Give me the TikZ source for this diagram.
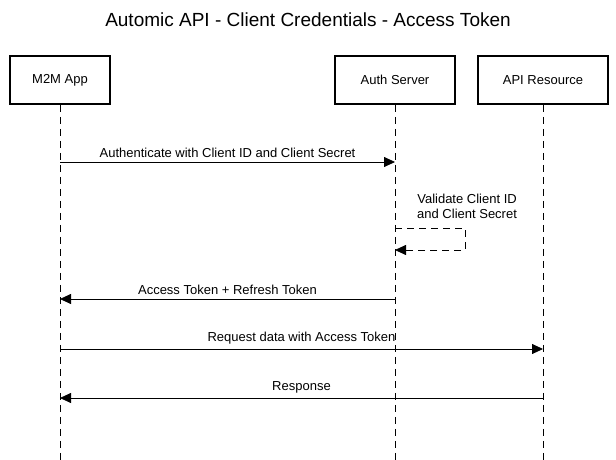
\documentclass[tikz,border=0pt]{standalone}
\usepackage{fontspec}
\setmainfont{Liberation Sans}
\usetikzlibrary{arrows.meta}
\tikzset{
  actor/.style={draw, line width=1.5pt, minimum width=100pt, minimum height=48pt, font=\fontsize{13}{15}\selectfont},
  life/.style={dashed, line width=0.8pt, dash pattern=on 7pt off 5pt},
  msg/.style={line width=0.8pt, -{Triangle[length=11pt,width=10pt]}},
  lbl/.style={font=\fontsize{13}{15}\selectfont, align=center, inner sep=1pt}
}
\begin{document}
\begin{tikzpicture}[x=1pt,y=-1pt]
\useasboundingbox (0,0) rectangle (616,460);
\node[font=\fontsize{19}{22}\selectfont] (title) at (308,20) {Automic API - Client Credentials - Access Token};
\node[actor] (app) at (60,80) {M2M App};
\node[actor, minimum width=120pt] (auth) at (395,80) {Auth Server};
\node[actor, minimum width=130pt] (api) at (543,80) {API Resource};
% lifelines
\coordinate (appE) at (60,460);
\coordinate (authE) at (395,460);
\coordinate (apiE) at (543,460);
\draw[life] (app) -- (appE);
\draw[life] (auth) -- (authE);
\draw[life] (api) -- (apiE);
% messages
\coordinate (a1) at (60,162); \coordinate (b1) at (395,162);
\draw[msg] (a1) -- node[lbl, above=3pt] {Authenticate with Client ID and Client Secret} (b1);
\coordinate (s1) at (395,228); \coordinate (s2) at (465,228);
\coordinate (s3) at (465,250); \coordinate (s4) at (395,250);
\draw[msg, dash pattern=on 7pt off 5pt] (s1) -- (s2) -- (s3) -- (s4);
\node[lbl, anchor=west] (val) at (416,206) {Validate Client ID\\and Client Secret};
\coordinate (a3) at (395,299); \coordinate (b3) at (60,299);
\draw[msg] (a3) -- node[lbl, above=3pt] {Access Token + Refresh Token} (b3);
\coordinate (a4) at (60,349); \coordinate (b4) at (543,349);
\draw[msg] (a4) -- node[lbl, above=3pt] {Request data with Access Token} (b4);
\coordinate (a5) at (543,398); \coordinate (b5) at (60,398);
\draw[msg] (a5) -- node[lbl, above=3pt] {Response} (b5);
\end{tikzpicture}
\end{document}
